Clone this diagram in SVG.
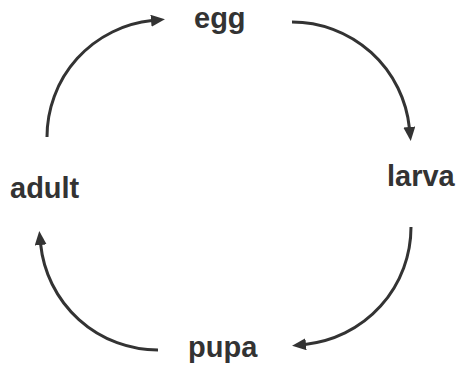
<svg xmlns="http://www.w3.org/2000/svg" width="463" height="367" viewBox="0 0 463 367">
<style>
.lbl{font-family:"Liberation Sans",Arial,sans-serif;font-weight:bold;font-size:29px;fill:#333}
.arc{fill:none;stroke:#333;stroke-width:3}
</style>
<defs>
<marker id="ah" viewBox="0 -6 14 12" markerWidth="14" markerHeight="12" refX="1" refY="0" orient="auto" markerUnits="userSpaceOnUse">
<path d="M0,-6 L14,0 L0,6 z" fill="#333"/>
</marker>
</defs>
<rect width="463" height="367" fill="#fff"/>
<g id="connectors">
<path class="arc" d="M47,137 A117 117 0 0 1 152,20.6" marker-end="url(#ah)"/>
<path class="arc" d="M292,22 A118 118 0 0 1 409.4,128" marker-end="url(#ah)"/>
<path class="arc" d="M411,227 A118 118 0 0 1 305,344.4" marker-end="url(#ah)"/>
<path class="arc" d="M158,350 A118 118 0 0 1 40.6,244" marker-end="url(#ah)"/>
</g>
<g id="egg"><text class="lbl" x="194" y="28">egg</text></g>
<g id="larva"><text class="lbl" x="387" y="186">larva</text></g>
<g id="adult"><text class="lbl" x="10" y="198">adult</text></g>
<g id="pupa"><text class="lbl" x="188" y="357">pupa</text></g>
</svg>
